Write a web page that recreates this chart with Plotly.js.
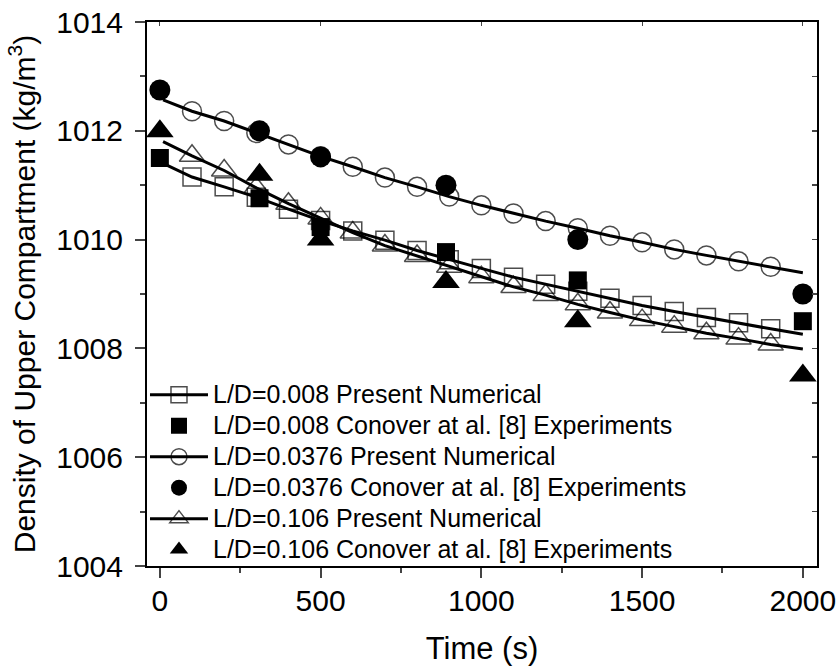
<!DOCTYPE html>
<html>
<head>
<meta charset="utf-8">
<script src="https://cdn.plot.ly/plotly-3.0.1.min.js"></script>
<style>html,body{margin:0;padding:0;background:#fff;}#chart{width:838px;height:666px;}</style>
</head>
<body>
<div id="chart"></div>
<script>
// Time (s) for numerical curves
const tNum = [10,100,200,300,400,500,600,700,800,900,1000,1100,1200,1300,1400,1500,1600,1700,1800,1900,2000];
// Numerical results
const num008  = [1011.40,1011.15,1010.97,1010.78,1010.56,1010.35,1010.16,1009.99,1009.80,1009.63,1009.47,1009.31,1009.18,1009.05,1008.92,1008.79,1008.68,1008.57,1008.47,1008.36,1008.26];
const num0376 = [1012.57,1012.36,1012.18,1011.96,1011.75,1011.53,1011.34,1011.14,1010.97,1010.79,1010.63,1010.48,1010.34,1010.21,1010.07,1009.95,1009.82,1009.71,1009.60,1009.50,1009.39];
const num106  = [1011.80,1011.54,1011.27,1010.95,1010.66,1010.39,1010.13,1009.89,1009.70,1009.50,1009.31,1009.13,1008.98,1008.81,1008.66,1008.52,1008.40,1008.28,1008.18,1008.07,1007.99];
// Experiments (Conover et al. [8])
const tExp = [0,310,500,890,1300,2000];
const exp008  = [1011.50,1010.76,1010.23,1009.77,1009.25,1008.50];
const exp0376 = [1012.75,1012.00,1011.52,1011.00,1010.00,1009.00];
const exp106  = [1011.99,1011.19,1010.00,1009.22,1008.50,1007.50];

const names = [
  'L/D=0.008 Present Numerical',
  'L/D=0.008 Conover at al. [8] Experiments',
  'L/D=0.0376 Present Numerical',
  'L/D=0.0376 Conover at al. [8] Experiments',
  'L/D=0.106 Present Numerical',
  'L/D=0.106 Conover at al. [8] Experiments'
];
const leg = s => '<span style="font-size:25px">' + s + '</span>';

function sizes(s){ return tNum.map((t,i)=> (i===0 || i===tNum.length-1) ? 0 : s); }

const font = 'Arial, "Liberation Sans", sans-serif';
const traces = [
  {x:tNum, y:num008, name:leg(names[0]), mode:'lines+markers', line:{color:'#000',width:3},
   marker:{symbol:'square-open', size:sizes(18), color:'#000', line:{width:1.5}}},
  {x:tExp, y:exp008, name:leg(names[1]), mode:'markers',
   marker:{symbol:'square', size:18, color:'#000'}},
  {x:tNum, y:num0376, name:leg(names[2]), mode:'lines+markers', line:{color:'#000',width:3},
   marker:{symbol:'circle-open', size:sizes(19), color:'#000', line:{width:1.5}}},
  {x:tExp, y:exp0376, name:leg(names[3]), mode:'markers',
   marker:{symbol:'circle', size:21, color:'#000'}},
  {x:tNum, y:num106, name:leg(names[4]), mode:'lines+markers', line:{color:'#000',width:3},
   marker:{symbol:'triangle-up-open', size:sizes(22), color:'#000', line:{width:1.5}}},
  {x:tExp, y:exp106, name:leg(names[5]), mode:'markers',
   marker:{symbol:'triangle-up', size:24, color:'#000'}},
  {x:[0], y:[1004], xaxis:'x2', yaxis:'y2', mode:'markers', marker:{opacity:0}, showlegend:false, hoverinfo:'skip'}
];

const layout = {
  width:838, height:666,
  margin:{l:147, r:21, t:22, b:100},
  paper_bgcolor:'#fff', plot_bgcolor:'#fff',
  font:{family:font, color:'#000'},
  showlegend:true,
  legend:{x:-0.003, y:-0.008, xanchor:'left', yanchor:'bottom', bgcolor:'rgba(0,0,0,0)',
          font:{family:font, size:21.5, color:'#000'}, itemwidth:58, tracegroupgap:0},
  xaxis:{range:[-40,2044], tickvals:[0,500,1000,1500,2000], ticks:'outside', ticklen:10, tickwidth:2,
         minor:{dtick:250, tick0:0, ticks:'outside', ticklen:5, tickwidth:2, showgrid:false},
         showline:true, linewidth:2, linecolor:'#000', showgrid:false, zeroline:false,
         tickfont:{family:font, size:30}, ticklabelstandoff:-3,
         title:{text:'Time (s)', font:{family:font, size:31}, standoff:30}},
  yaxis:{range:[1004,1014], tickvals:[1004,1006,1008,1010,1012,1014], ticks:'outside', ticklen:10, tickwidth:2,
         minor:{dtick:1, tick0:1004, ticks:'outside', ticklen:5, tickwidth:2, showgrid:false},
         showline:true, linewidth:2, linecolor:'#000', showgrid:false, zeroline:false,
         tickfont:{family:font, size:30}, ticklabelstandoff:6,
         title:{text:'Density of Upper Compartment (kg/m<sup>3</sup>)', font:{family:font, size:30}, standoff:12}},
  xaxis2:{overlaying:'x', side:'top', range:[-40,2044], tickvals:[0,500,1000,1500,2000], ticks:'inside', ticklen:4, tickwidth:1,
          showticklabels:false, showline:true, linewidth:2, linecolor:'#000', showgrid:false, zeroline:false},
  yaxis2:{overlaying:'y', side:'right', range:[1004,1014], tickvals:[1004,1005,1006,1007,1008,1009,1010,1011,1012,1013,1014], ticks:'inside', ticklen:5, tickwidth:1.5,
          showticklabels:false, showline:true, linewidth:2, linecolor:'#000', showgrid:false, zeroline:false}
};

Plotly.newPlot('chart', traces, layout, {displayModeBar:false, staticPlot:true});
</script>
</body>
</html>
